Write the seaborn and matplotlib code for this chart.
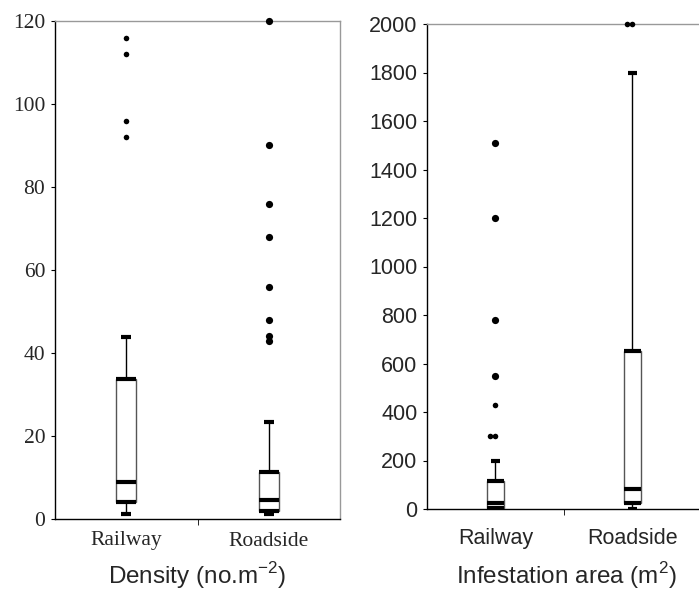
import pandas as pd
import matplotlib
matplotlib.use('Agg')
import matplotlib.pyplot as plt
import seaborn as sns

sites = ['Railway', 'Roadside']

# whisker low, Q1, median, Q3, whisker high
dens_rail_stats = [1.2, 4.1, 8.9, 33.7, 43.9]
dens_road_stats = [1.2, 1.9, 4.6, 11.4, 23.4]
dens_rail_small = [116, 112, 96, 92]
dens_road_big = [120, 90, 76, 68, 56, 48, 44, 43]

area_rail_stats = [0, 3, 25, 116, 200]
area_road_stats = [0, 25, 82, 650, 1800]
area_rail_big = [1510, 1200, 780, 550]
area_rail_small = [430, 300, 300]
area_road_small = [2000, 2000]

sns.set_style('ticks')
plt.rcParams['mathtext.fontset'] = 'custom'
plt.rcParams['mathtext.rm'] = 'Liberation Sans'


def long_df(a, b):
    return pd.DataFrame({'site': ['Railway'] * len(a) + ['Roadside'] * len(b),
                         'value': list(a) + list(b)})


def draw_panel(ax, stats_a, stats_b, big, small, width, tickfont, ticksize, xpad):
    box_df = long_df(stats_a, stats_b)
    sns.boxplot(data=box_df, x='site', y='value', order=sites, ax=ax,
                whis=(0, 100), width=width, color='white', fill=True,
                showfliers=False,
                boxprops=dict(edgecolor='#555555', linewidth=1.0),
                medianprops=dict(color='black', linewidth=3, solid_capstyle='butt'),
                whiskerprops=dict(color='black', linewidth=1.0),
                capprops=dict(color='black', linewidth=3, solid_capstyle='butt'))
    # thick quartile lines like the original
    q = box_df.groupby('site')['value']
    for i, s in enumerate(sites):
        for p in (0.25, 0.75):
            v = q.quantile(p)[s]
            ax.hlines(v, i - width / 2, i + width / 2, color='black', lw=3, zorder=4)
    if len(big):
        sns.stripplot(data=big, x='site', y='value', order=sites, ax=ax,
                      jitter=False, size=5.2, color='black', clip_on=False, zorder=5)
    if len(small):
        sns.swarmplot(data=small, x='site', y='value', order=sites, ax=ax,
                      size=4.0, color='black', clip_on=False, zorder=5)
    ax.set_xlim(-0.5, 1.5)
    ax.set_xlabel('')
    ax.set_ylabel('')
    for side in ('top', 'right'):
        ax.spines[side].set_visible(True)
        ax.spines[side].set_color('#999999')
        ax.spines[side].set_linewidth(1.0)
    for side in ('left', 'bottom'):
        ax.spines[side].set_color('black')
        ax.spines[side].set_linewidth(1.0)
    ax.set_xticks([0, 1])
    ax.set_xticklabels(sites, family=tickfont, fontsize=ticksize)
    ax.set_xticks([0.5], minor=True)
    ax.tick_params(axis='x', which='major', length=0, pad=xpad)
    ax.tick_params(axis='x', which='minor', length=4, direction='out', color='black')
    ax.tick_params(axis='y', length=3, direction='out', color='black', pad=4)


fig = plt.figure(figsize=(6.99, 5.92), dpi=100)
ax1 = fig.add_axes([55 / 699, 1 - 519 / 592, 285 / 699, 498 / 592])
ax2 = fig.add_axes([427 / 699, 1 - 509 / 592, 274 / 699, 485 / 592])

big1 = pd.DataFrame({'site': ['Roadside'] * len(dens_road_big), 'value': dens_road_big})
small1 = pd.DataFrame({'site': ['Railway'] * len(dens_rail_small), 'value': dens_rail_small})
draw_panel(ax1, dens_rail_stats, dens_road_stats, big1, small1, 0.14,
           'Liberation Serif', 15.5, 9)
ax1.set_ylim(0, 120)
ax1.set_yticks(range(0, 121, 20))
for t in ax1.get_yticklabels():
    t.set_family('Liberation Serif')
    t.set_fontsize(15.5)

big2 = pd.DataFrame({'site': ['Railway'] * len(area_rail_big), 'value': area_rail_big})
small2 = long_df(area_rail_small, area_road_small)
draw_panel(ax2, area_rail_stats, area_road_stats, big2, small2, 0.13,
           'Liberation Sans', 15.5, 14)
ax2.set_ylim(0, 2000)
ax2.set_yticks(range(0, 2001, 200))
for t in ax2.get_yticklabels():
    t.set_family('Liberation Sans')
    t.set_fontsize(15.5)

fig.text(197 / 699, 1 - 576 / 592, 'Density (no.m$^{-2}$)', family='Liberation Sans',
         fontsize=17.5, ha='center', va='center')
fig.text(567 / 699, 1 - 576 / 592, 'Infestation area (m$^{2}$)', family='Liberation Sans',
         fontsize=17.5, ha='center', va='center')

fig.savefig('out.png', dpi=100, facecolor='white')
